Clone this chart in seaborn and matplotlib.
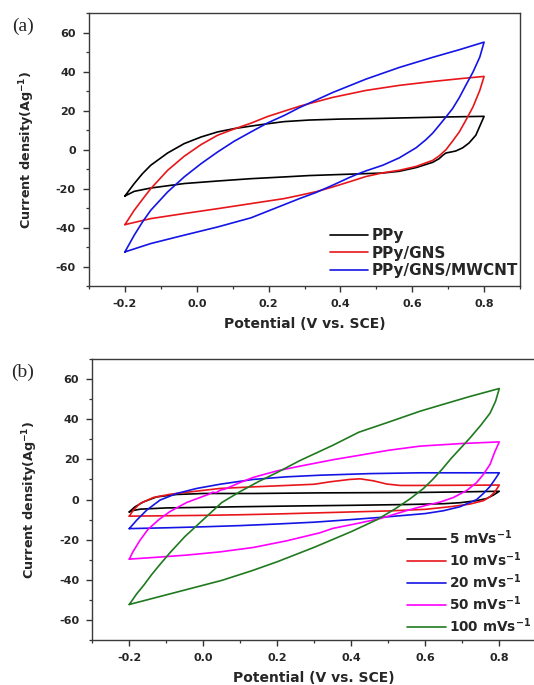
import numpy as np
import pandas as pd
import matplotlib
matplotlib.use("Agg")
import matplotlib.pyplot as plt
import seaborn as sns
from matplotlib.ticker import FixedLocator, MultipleLocator

# ---- panel (a): CV curves of the three electrodes ----
ppy_up_E = [-0.2, -0.174, -0.151, -0.128, -0.081, -0.035, 0.012, 0.058, 0.104, 0.151, 0.197, 0.244, 0.313, 0.4, 0.5, 0.6, 0.7, 0.8]
ppy_up_j = [-23.8, -17.4, -12.3, -8.0, -1.7, 3.1, 6.5, 9.1, 10.8, 12.1, 13.3, 14.4, 15.2, 15.7, 16.0, 16.4, 16.8, 17.1]
ppy_dn_E = [0.8, 0.791, 0.777, 0.758, 0.74, 0.721, 0.708, 0.694, 0.685, 0.675, 0.657, 0.611, 0.564, 0.518, 0.425, 0.313, 0.244, 0.151, 0.058, -0.035, -0.128, -0.174, -0.2]
ppy_dn_j = [17.1, 13.3, 7.4, 3.4, 0.9, -0.7, -1.2, -1.7, -2.9, -4.6, -6.5, -9.2, -11.1, -12.0, -12.6, -13.3, -14.0, -14.9, -16.1, -17.4, -19.7, -21.4, -23.8]

gns_up_E = [-0.2, -0.174, -0.151, -0.128, -0.081, -0.035, 0.012, 0.058, 0.104, 0.151, 0.197, 0.244, 0.29, 0.378, 0.471, 0.564, 0.657, 0.731, 0.8]
gns_up_j = [-38.5, -31.1, -25.5, -20.0, -10.6, -3.4, 2.6, 7.4, 10.6, 13.6, 17.0, 19.8, 22.5, 26.8, 30.4, 33.0, 35.0, 36.4, 37.6]
gns_dn_E = [0.8, 0.788, 0.769, 0.749, 0.731, 0.712, 0.694, 0.675, 0.657, 0.611, 0.564, 0.518, 0.471, 0.425, 0.378, 0.332, 0.285, 0.244, 0.151, 0.058, -0.035, -0.128, -0.2]
gns_dn_j = [37.6, 30.4, 21.9, 15.0, 9.1, 4.3, 0.0, -3.2, -5.5, -8.6, -10.6, -11.9, -13.8, -16.5, -19.2, -21.6, -23.5, -25.1, -27.7, -30.3, -32.8, -35.4, -38.5]

mw_up_E = [-0.2, -0.174, -0.151, -0.128, -0.081, -0.035, 0.012, 0.058, 0.104, 0.151, 0.197, 0.244, 0.285, 0.378, 0.471, 0.564, 0.657, 0.731, 0.8]
mw_up_j = [-52.5, -43.9, -37.1, -31.1, -21.7, -14.0, -7.2, -1.2, 4.3, 9.1, 13.7, 17.6, 21.5, 29.3, 36.2, 42.2, 47.4, 51.3, 55.2]
mw_dn_E = [0.8, 0.788, 0.769, 0.749, 0.731, 0.712, 0.694, 0.675, 0.657, 0.638, 0.611, 0.564, 0.518, 0.471, 0.448, 0.425, 0.378, 0.332, 0.285, 0.244, 0.151, 0.058, -0.035, -0.128, -0.2]
mw_dn_j = [55.2, 47.5, 39.8, 33.0, 26.7, 21.0, 16.8, 12.5, 8.5, 5.1, 1.0, -4.2, -8.0, -10.9, -12.5, -14.3, -18.3, -22.0, -25.2, -28.2, -35.0, -39.7, -43.9, -48.2, -52.5]

labels_a = ["PPy", "PPy/GNS", "PPy/GNS/MWCNT"]
colors_a = ["#000000", "#e8161b", "#1414e6"]

# ---- panel (b): PPy/GNS/MWCNT at different scan rates ----
r5_up_E = [-0.2, -0.185, -0.162, -0.126, -0.072, 0.0, 0.135, 0.315, 0.586, 0.7, 0.8]
r5_up_j = [-6.2, -3.7, -1.2, 1.3, 2.5, 3.0, 3.0, 3.3, 3.5, 3.8, 4.1]
r5_dn_E = [0.8, 0.784, 0.766, 0.739, 0.694, 0.649, 0.55, 0.4, 0.26, 0.1, -0.1, -0.17, -0.19, -0.2]
r5_dn_j = [4.1, 2.2, 0.5, -0.6, -1.6, -2.1, -2.5, -2.9, -3.2, -3.6, -4.2, -4.8, -5.5, -6.2]

r10_up_E = [-0.2, -0.189, -0.171, -0.135, -0.09, -0.045, 0.045, 0.135, 0.225, 0.3, 0.342, 0.396, 0.424, 0.46, 0.496, 0.532, 0.586, 0.7, 0.8]
r10_up_j = [-8.3, -5.3, -2.0, 1.0, 2.6, 3.6, 5.5, 6.3, 7.0, 7.6, 8.8, 10.0, 10.3, 9.3, 7.7, 7.0, 7.0, 7.1, 7.2]
r10_dn_E = [0.8, 0.788, 0.775, 0.757, 0.72, 0.667, 0.6, 0.5, 0.4, 0.3, 0.2, 0.1, 0.0, -0.2]
r10_dn_j = [7.2, 3.8, 1.4, -0.6, -2.3, -3.6, -4.9, -5.7, -6.2, -6.7, -7.2, -7.6, -7.9, -8.3]

r20_up_E = [-0.2, -0.18, -0.153, -0.117, -0.072, -0.018, 0.045, 0.135, 0.225, 0.315, 0.45, 0.586, 0.7, 0.8]
r20_up_j = [-14.5, -10.3, -5.3, -0.3, 3.0, 5.5, 7.6, 10.0, 11.3, 12.1, 12.9, 13.3, 13.3, 13.3]
r20_dn_E = [0.8, 0.79, 0.775, 0.757, 0.739, 0.694, 0.649, 0.6, 0.5, 0.4, 0.3, 0.2, 0.1, 0.0, -0.1, -0.2]
r20_dn_j = [13.3, 10.5, 6.5, 3.0, 0.0, -3.6, -5.6, -7.0, -8.6, -10.0, -11.3, -12.2, -13.0, -13.6, -14.1, -14.5]

r50_up_E = [-0.2, -0.19, -0.171, -0.15, -0.12, -0.09, -0.045, 0.0, 0.015, 0.025, 0.035, 0.045, 0.06, 0.1, 0.135, 0.2, 0.261, 0.35, 0.424, 0.5, 0.586, 0.7, 0.8]
r50_up_j = [-29.7, -26.0, -20.3, -15.0, -10.0, -6.0, -1.5, 1.6, 2.6, 3.6, 3.4, 4.6, 5.3, 8.5, 11.0, 14.3, 16.6, 19.8, 22.1, 24.5, 26.6, 27.9, 28.7]
r50_dn_E = [0.8, 0.788, 0.775, 0.757, 0.739, 0.712, 0.676, 0.64, 0.6, 0.55, 0.48, 0.42, 0.35, 0.315, 0.225, 0.135, 0.045, -0.045, -0.135, -0.2]
r50_dn_j = [28.7, 23.8, 17.5, 12.5, 8.5, 4.5, 1.0, -1.3, -3.0, -5.5, -9.4, -11.8, -14.4, -16.6, -20.6, -23.9, -26.1, -27.7, -28.9, -29.7]

r100_up_E = [-0.2, -0.18, -0.16, -0.14, -0.12, -0.09, -0.05, 0.0, 0.05, 0.1, 0.15, 0.2, 0.26, 0.35, 0.42, 0.5, 0.586, 0.65, 0.72, 0.8]
r100_up_j = [-52.3, -47.0, -42.5, -37.5, -33.0, -26.5, -18.5, -10.0, -1.5, 4.0, 9.0, 13.5, 19.3, 27.0, 33.5, 38.5, 44.0, 47.5, 51.3, 55.3]
r100_dn_E = [0.8, 0.79, 0.775, 0.75, 0.72, 0.70, 0.67, 0.645, 0.62, 0.595, 0.56, 0.52, 0.47, 0.40, 0.3, 0.2, 0.131, 0.05, -0.05, -0.2]
r100_dn_j = [55.3, 49.0, 43.0, 37.0, 30.5, 26.5, 20.5, 15.0, 10.0, 5.5, 0.5, -4.5, -10.0, -16.0, -23.8, -31.0, -35.5, -40.3, -45.1, -52.3]

labels_b = ["5 mVs$^{-1}$", "10 mVs$^{-1}$", "20 mVs$^{-1}$", "50 mVs$^{-1}$", "100 mVs$^{-1}$"]
colors_b = ["#000000", "#e8161b", "#1414e6", "#ff00ff", "#1f7a1f"]

xtick_vals = [-0.2, 0.0, 0.2, 0.4, 0.6, 0.8]
xtick_labels = ["-0.2", "0.0", "0.2", "0.4", "0.6", "0.8"]
ytick_vals = [-60, -40, -20, 0, 20, 40, 60]
ytick_labels = ["-60", "-40", "-20", "0", "20", "40", "60"]


def loop_frame(curves, names):
    # each loop = forward sweep followed by reverse sweep
    parts = []
    for (ue, uj, de, dj), nm in zip(curves, names):
        e = list(ue) + list(de)
        j = list(uj) + list(dj)
        parts.append(pd.DataFrame({"E": e, "j": j, "curve": nm, "order": np.arange(len(e))}))
    return pd.concat(parts, ignore_index=True)


df_a = loop_frame([(ppy_up_E, ppy_up_j, ppy_dn_E, ppy_dn_j),
                   (gns_up_E, gns_up_j, gns_dn_E, gns_dn_j),
                   (mw_up_E, mw_up_j, mw_dn_E, mw_dn_j)], labels_a)
df_b = loop_frame([(r5_up_E, r5_up_j, r5_dn_E, r5_dn_j),
                   (r10_up_E, r10_up_j, r10_dn_E, r10_dn_j),
                   (r20_up_E, r20_up_j, r20_dn_E, r20_dn_j),
                   (r50_up_E, r50_up_j, r50_dn_E, r50_dn_j),
                   (r100_up_E, r100_up_j, r100_dn_E, r100_dn_j)], labels_b)

sns.set_theme(style="ticks")
plt.rcParams["font.family"] = ["DejaVu Sans"]
plt.rcParams["mathtext.default"] = "bf"

W, H = 534, 685
fig = plt.figure(figsize=(W / 100, H / 100), dpi=100)
ax1 = fig.add_axes([89 / W, 1 - 286 / H, (520 - 89) / W, (286 - 13.3) / H])
ax2 = fig.add_axes([92.3 / W, 1 - 640 / H, (536.3 - 92.3) / W, (640 - 359) / H])

panels = [(ax1, df_a, labels_a, colors_a, "(a)", 13.3, 286),
          (ax2, df_b, labels_b, colors_b, "(b)", 359, 640)]

for ax, df, labs, cols, tag, top, bot in panels:
    sns.lineplot(data=df, x="E", y="j", hue="curve", hue_order=labs,
                 palette=dict(zip(labs, cols)), sort=False, estimator=None,
                 units="curve", linewidth=1.2, ax=ax)
    ax.set_xlim(-0.3, 0.9)
    ax.set_ylim(-70, 70)
    ax.xaxis.set_major_locator(FixedLocator(xtick_vals))
    ax.set_xticklabels(xtick_labels)
    ax.xaxis.set_minor_locator(MultipleLocator(0.1))
    ax.yaxis.set_major_locator(FixedLocator(ytick_vals))
    ax.set_yticklabels(ytick_labels)
    ax.yaxis.set_minor_locator(MultipleLocator(10))
    ax.tick_params(which="major", direction="out", length=4.5, width=1.0,
                   color="#333333", labelsize=8, pad=5)
    ax.tick_params(which="minor", direction="out", length=2.5, width=0.9, color="#333333")
    for lbl in ax.get_xticklabels() + ax.get_yticklabels():
        lbl.set_fontweight("bold")
    for sp in ax.spines.values():
        sp.set_visible(True)
        sp.set_color("#3a3a3a")
        sp.set_linewidth(1.0)
    hpx = bot - top
    ax.set_xlabel("Potential (V vs. SCE)", fontsize=10, fontweight="bold", va="center")
    ax.set_ylabel("Current density(Ag$^{-1}$)", fontsize=9.2, fontweight="bold", va="center")
    ax.xaxis.set_label_coords(0.5, -38 / hpx)
    ax.yaxis.set_label_coords(-62 / (ax.get_position().width * W), 0.5)
    fig.text(23 / W, 1 - (top + 13) / H, tag, fontsize=14, family="Liberation Serif",
             ha="center", va="center")

sns.move_legend(ax1, "upper left", bbox_to_anchor=(330 / W, 1 - 228 / H),
                bbox_transform=fig.transFigure, title=None, frameon=False,
                prop={"size": 11, "weight": "bold"}, handlelength=2.5, handletextpad=0.2,
                labelspacing=0.17, borderaxespad=0, borderpad=0)
sns.move_legend(ax2, "upper left", bbox_to_anchor=(407 / W, 1 - 528 / H),
                bbox_transform=fig.transFigure, title=None, frameon=False,
                prop={"size": 9.8, "weight": "bold"}, handlelength=2.9, handletextpad=0.2,
                labelspacing=0.25, borderaxespad=0, borderpad=0)

fig.savefig("out.png", dpi=100)
